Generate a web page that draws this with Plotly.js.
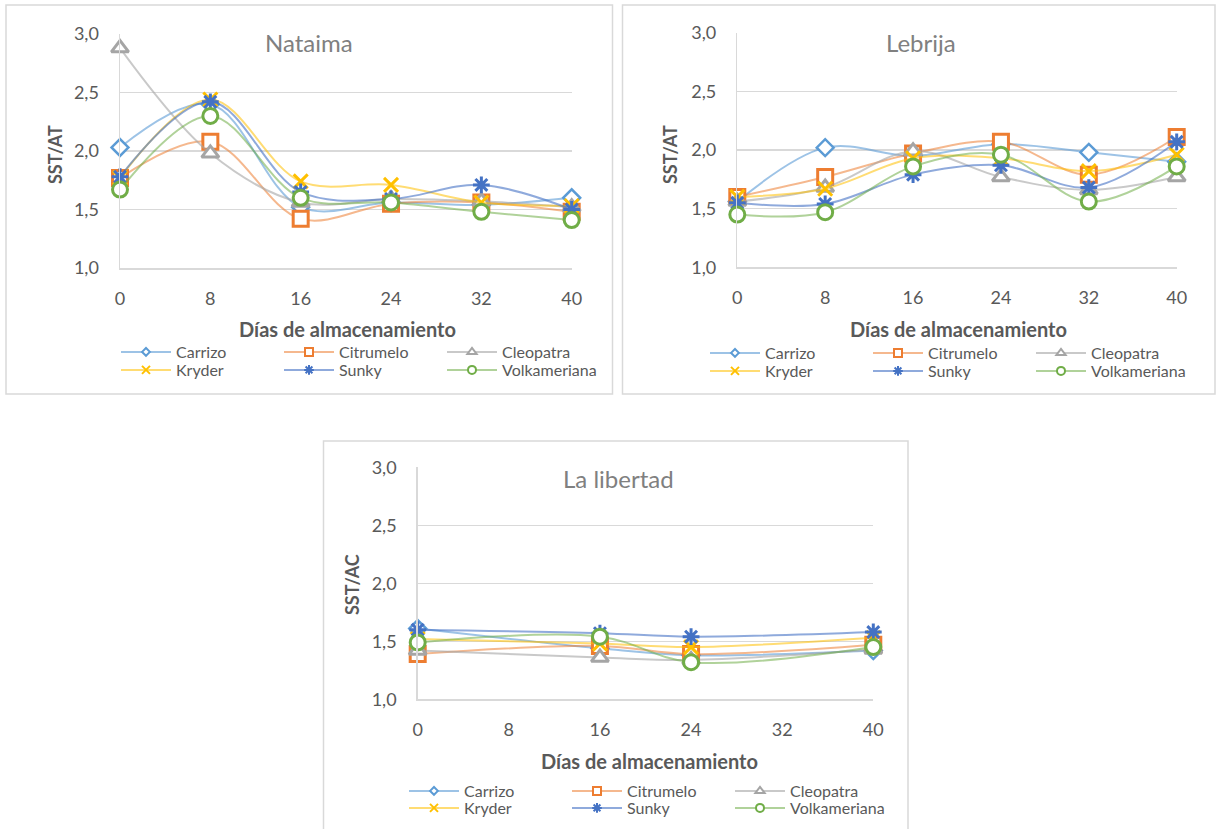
<!DOCTYPE html>
<html>
<head>
<meta charset="utf-8">
<script src="https://cdn.plot.ly/plotly-3.0.1.min.js"></script>
<style>
  html, body { margin: 0; padding: 0; background: #ffffff; }
  #chart { width: 1216px; height: 829px; }
</style>
</head>
<body>
<div id="chart"></div>
<script>
// ---------------- DATA ----------------
const seriesNames = ["Carrizo", "Citrumelo", "Cleopatra", "Kryder", "Sunky", "Volkameriana"];
const days = [0, 8, 16, 24, 32, 40];
const daysLibertad = [0, 16, 24, 40];
const xTicks = [0, 8, 16, 24, 32, 40];
const yTicks = [1.0, 1.5, 2.0, 2.5, 3.0];

const panelTitles = ["Nataima", "Lebrija", "La libertad"];
const yTitles = ["SST/AT", "SST/AT", "SST/AC"];
const xTitle = "Días de almacenamiento";

// Nataima
const natCarrizo      = [2.03, 2.40, 1.52, 1.56, 1.54, 1.60];
const natCitrumelo    = [1.77, 2.08, 1.42, 1.55, 1.56, 1.48];
const natCleopatra    = [2.88, 1.98, 1.56, 1.59, 1.57, 1.52];
const natKryder       = [1.77, 2.44, 1.74, 1.71, 1.56, 1.53];
const natSunky        = [1.78, 2.42, 1.65, 1.59, 1.71, 1.50];
const natVolkameriana = [1.67, 2.30, 1.60, 1.56, 1.48, 1.41];

// Lebrija
const lebCarrizo      = [1.56, 2.02, 1.95, 2.05, 1.98, 1.90];
const lebCitrumelo    = [1.60, 1.77, 1.97, 2.07, 1.79, 2.11];
const lebCleopatra    = [1.56, 1.68, 1.99, 1.77, 1.66, 1.77];
const lebKryder       = [1.60, 1.67, 1.93, 1.93, 1.82, 1.96];
const lebSunky        = [1.55, 1.54, 1.79, 1.87, 1.68, 2.07];
const lebVolkameriana = [1.45, 1.47, 1.86, 1.96, 1.56, 1.86];

// La libertad
const libCarrizo      = [1.61, 1.44, 1.38, 1.42];
const libCitrumelo    = [1.39, 1.46, 1.39, 1.47];
const libCleopatra    = [1.42, 1.36, 1.34, 1.43];
const libKryder       = [1.52, 1.48, 1.45, 1.53];
const libSunky        = [1.60, 1.57, 1.54, 1.58];
const libVolkameriana = [1.49, 1.54, 1.32, 1.45];

// ---------------- STYLE ----------------
const W = 1216, H = 829;
const px = v => v / W;
const py = v => 1 - v / H;
const FONT = "Lato, 'Open Sans', sans-serif";
const TXT = "#595959";
const GRID = "#d9d9d9";

const styles = [
  {line: "rgba(91,155,213,0.6)",  symbol: "diamond",       fill: "#ffffff", stroke: "#5B9BD5", size: 13, lsize: 6, lw: 2.5},
  {line: "rgba(237,125,49,0.55)", symbol: "square",        fill: "#ffffff", stroke: "#ED7D31", size: 15, lsize: 8, lw: 3},
  {line: "rgba(165,165,165,0.6)", symbol: "triangle-up",   fill: "#ffffff", stroke: "#A5A5A5", size: 15, lsize: 8, lw: 3},
  {line: "rgba(255,192,0,0.55)",  symbol: "x-thin-open",   fill: "#FFC000", stroke: "#FFC000", size: 14, lsize: 8, lw: 3},
  {line: "rgba(68,114,196,0.6)",  symbol: "asterisk-open", fill: "#4472C4", stroke: "#4472C4", size: 14, lsize: 8, lw: 3},
  {line: "rgba(112,173,71,0.55)", symbol: "circle",        fill: "#ffffff", stroke: "#70AD47", size: 15, lsize: 8, lw: 3}
];

const panels = [
  {x: days, ys: [natCarrizo, natCitrumelo, natCleopatra, natKryder, natSunky, natVolkameriana], xa: "x", ya: "y", legends: ["legend", "legend2"]},
  {x: days, ys: [lebCarrizo, lebCitrumelo, lebCleopatra, lebKryder, lebSunky, lebVolkameriana], xa: "x2", ya: "y2", legends: ["legend3", "legend4"]},
  {x: daysLibertad, ys: [libCarrizo, libCitrumelo, libCleopatra, libKryder, libSunky, libVolkameriana], xa: "x3", ya: "y3", legends: ["legend5", "legend6"]}
];

const traces = [];
panels.forEach(p => {
  // the data series
  p.ys.forEach((yv, i) => {
    const s = styles[i];
    traces.push({
      type: "scatter", mode: "lines+markers",
      x: p.x, y: yv, name: seriesNames[i],
      xaxis: p.xa, yaxis: p.ya, showlegend: false,
      line: {color: s.line, width: 2, shape: "spline", smoothing: 1},
      marker: {symbol: s.symbol, size: s.size, color: s.fill, line: {color: s.stroke, width: s.lw}},
      cliponaxis: false, hoverinfo: "x+y+name"
    });
  });
  // legend entries (small symbols, as in the source legend)
  seriesNames.forEach((nm, i) => {
    const s = styles[i];
    traces.push({
      type: "scatter", mode: "lines+markers",
      x: [null], y: [null], name: nm,
      xaxis: p.xa, yaxis: p.ya, showlegend: true,
      legend: i < 3 ? p.legends[0] : p.legends[1],
      line: {color: s.line, width: 2},
      marker: {symbol: s.symbol, size: s.lsize, color: s.fill, line: {color: s.stroke, width: 2}},
      hoverinfo: "skip"
    });
  });
});

// plot area pixel boxes: [left, right, top(3.0), bottom(1.0)]
const boxes = [
  [120, 571.7, 34, 268],
  [737.3, 1176.7, 32.7, 267.3],
  [417.7, 873.3, 467.3, 699.3]
];

function xaxisDef(b, anchor) {
  return {
    domain: [px(b[0]), px(b[1])], anchor: anchor, range: [0, 40],
    tickvals: xTicks, ticktext: xTicks.map(String), showgrid: false, zeroline: false,
    showline: true, linecolor: GRID, linewidth: 1.5, ticks: "",
    tickfont: {family: FONT, size: 18, color: TXT}, ticklabelstandoff: 14, fixedrange: true
  };
}
function yaxisDef(b, anchor) {
  return {
    domain: [py(b[3]), py(b[2])], anchor: anchor, range: [1, 3],
    tickvals: yTicks, tickformat: ".1f", showgrid: true, gridcolor: GRID, gridwidth: 1.5,
    zeroline: false, showline: true, linecolor: GRID, linewidth: 1.5, ticks: "",
    tickfont: {family: FONT, size: 18, color: TXT}, ticklabelstandoff: 16, fixedrange: true
  };
}

function legendDef(xLeft, yCenter) {
  return {
    orientation: "h", x: px(xLeft), xanchor: "left", y: py(yCenter), yanchor: "middle",
    bgcolor: "rgba(0,0,0,0)", borderwidth: 0, itemwidth: 50, entrywidth: 98, itemsizing: "trace",
    font: {family: FONT, size: 16, color: TXT}, tracegroupgap: 0, traceorder: "normal"
  };
}

const annotations = [];
function ann(text, x, y, opts) {
  annotations.push(Object.assign({
    text: text, x: px(x), y: py(y), xref: "paper", yref: "paper",
    xanchor: "center", yanchor: "middle", showarrow: false,
    font: {family: FONT, size: 18, color: TXT}
  }, opts || {}));
}
const titleFont = {family: FONT, size: 24, color: "#808080"};
const yTitleFont = {family: FONT, size: 18, color: TXT};
const xTitleFont = {family: FONT, size: 20, color: TXT};
// panel titles
ann(panelTitles[0], 309, 42, {font: titleFont});
ann(panelTitles[1], 921, 42, {font: titleFont});
ann(panelTitles[2], 618, 478, {font: titleFont});
// y titles
ann("<b>" + yTitles[0] + "</b>", 55, 155, {textangle: -90, font: yTitleFont});
ann("<b>" + yTitles[1] + "</b>", 670, 155, {textangle: -90, font: yTitleFont});
ann("<b>" + yTitles[2] + "</b>", 352, 585, {textangle: -90, font: yTitleFont});
// x titles
ann("<b>" + xTitle + "</b>", 347, 329, {font: xTitleFont});
ann("<b>" + xTitle + "</b>", 958, 329, {font: xTitleFont});
ann("<b>" + xTitle + "</b>", 649, 761, {font: xTitleFont});

const border = (x0, y0, x1, y1) => ({
  type: "rect", xref: "paper", yref: "paper",
  x0: px(x0), x1: px(x1), y0: py(y1), y1: py(y0),
  line: {color: GRID, width: 1.5}, fillcolor: "rgba(0,0,0,0)", layer: "below"
});

const layout = {
  width: W, height: H, autosize: false,
  margin: {l: 0, r: 0, t: 0, b: 0, pad: 0},
  paper_bgcolor: "#ffffff", plot_bgcolor: "rgba(0,0,0,0)",
  separators: ",.",
  font: {family: FONT, color: TXT},
  xaxis: xaxisDef(boxes[0], "y"), yaxis: yaxisDef(boxes[0], "x"),
  xaxis2: xaxisDef(boxes[1], "y2"), yaxis2: yaxisDef(boxes[1], "x2"),
  xaxis3: xaxisDef(boxes[2], "y3"), yaxis3: yaxisDef(boxes[2], "x3"),
  legend: legendDef(116, 352), legend2: legendDef(116, 370),
  legend3: legendDef(705, 353), legend4: legendDef(705, 371),
  legend5: legendDef(404, 791), legend6: legendDef(404, 808),
  annotations: annotations,
  shapes: [
    border(6, 5, 612.5, 394),
    border(622.5, 5, 1215, 394),
    border(323.5, 441, 908, 835)
  ],
  showlegend: true, hovermode: "closest"
};

Plotly.newPlot("chart", traces, layout, {displayModeBar: false, staticPlot: true});
</script>
</body>
</html>
